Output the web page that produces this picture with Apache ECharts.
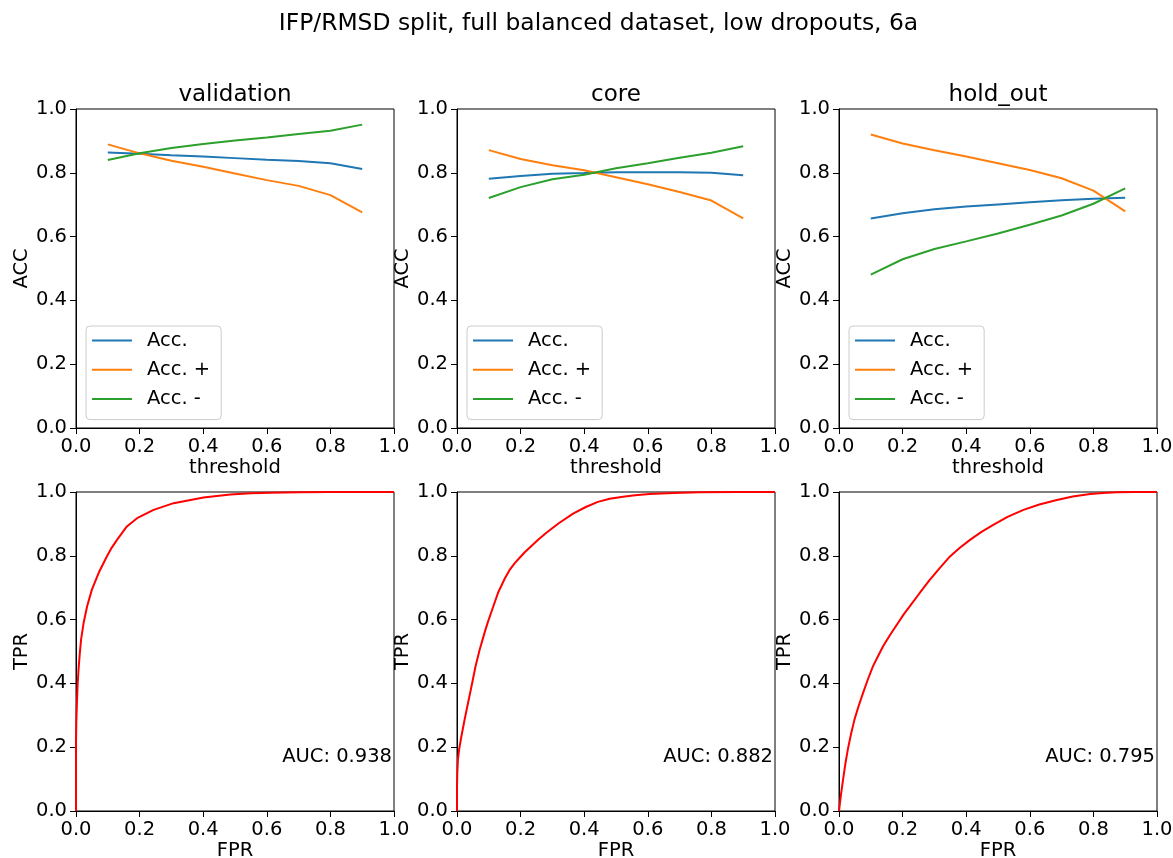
<!DOCTYPE html>
<html>
<head>
<meta charset="utf-8">
<script src="https://cdn.jsdelivr.net/npm/echarts@6/dist/echarts.min.js"></script>
<style>html,body{margin:0;padding:0;background:#fff;overflow:hidden}#c{width:1173px;height:858px}</style>
</head>
<body>
<div id="c"></div>
<script>
const thresholds = [0.1, 0.2, 0.3, 0.4, 0.5, 0.6, 0.7, 0.8, 0.9];
const panelTitles = ['validation', 'core', 'hold_out'];
const seriesNames = ['Acc.', 'Acc. +', 'Acc. -'];
const aucLabels = ['AUC: 0.938', 'AUC: 0.882', 'AUC: 0.795'];

const valAcc    = [0.864, 0.860, 0.855, 0.851, 0.846, 0.841, 0.837, 0.830, 0.812];
const valAccPos = [0.889, 0.861, 0.838, 0.819, 0.798, 0.777, 0.759, 0.730, 0.676];
const valAccNeg = [0.840, 0.861, 0.878, 0.890, 0.901, 0.911, 0.922, 0.932, 0.951];

const coreAcc    = [0.781, 0.790, 0.797, 0.799, 0.802, 0.802, 0.802, 0.800, 0.792];
const coreAccPos = [0.871, 0.843, 0.824, 0.808, 0.786, 0.764, 0.740, 0.713, 0.657];
const coreAccNeg = [0.721, 0.755, 0.780, 0.794, 0.814, 0.830, 0.847, 0.863, 0.883];

const holdAcc    = [0.657, 0.673, 0.686, 0.694, 0.701, 0.708, 0.714, 0.719, 0.722];
const holdAccPos = [0.920, 0.892, 0.871, 0.851, 0.830, 0.809, 0.783, 0.744, 0.679];
const holdAccNeg = [0.481, 0.529, 0.561, 0.585, 0.610, 0.637, 0.666, 0.703, 0.751];

const valFpr = [0, 0, 0.001, 0.003, 0.005, 0.008, 0.012, 0.016, 0.024, 0.035, 0.050, 0.071, 0.097, 0.112, 0.129, 0.145, 0.160, 0.192, 0.244, 0.307, 0.401, 0.485, 0.550, 0.611, 0.700, 0.800, 0.900, 1];
const valTpr = [0, 0.215, 0.280, 0.340, 0.395, 0.444, 0.495, 0.538, 0.590, 0.642, 0.694, 0.746, 0.798, 0.825, 0.850, 0.872, 0.892, 0.918, 0.944, 0.965, 0.983, 0.992, 0.996, 0.998, 0.999, 1, 1, 1];

const coreFpr = [0, 0, 0.001, 0.003, 0.007, 0.014, 0.024, 0.035, 0.045, 0.058, 0.071, 0.087, 0.097, 0.113, 0.129, 0.150, 0.165, 0.181, 0.197, 0.213, 0.234, 0.255, 0.281, 0.320, 0.365, 0.405, 0.443, 0.480, 0.522, 0.560, 0.606, 0.680, 0.763, 0.880, 1];
const coreTpr = [0, 0.080, 0.120, 0.162, 0.195, 0.235, 0.287, 0.340, 0.388, 0.452, 0.505, 0.560, 0.592, 0.638, 0.684, 0.728, 0.755, 0.776, 0.794, 0.811, 0.831, 0.850, 0.872, 0.902, 0.932, 0.953, 0.969, 0.979, 0.985, 0.990, 0.994, 0.997, 0.999, 1, 1];

const holdFpr = [0, 0.006, 0.013, 0.020, 0.028, 0.038, 0.049, 0.062, 0.076, 0.091, 0.107, 0.123, 0.139, 0.162, 0.186, 0.204, 0.223, 0.255, 0.286, 0.318, 0.349, 0.380, 0.412, 0.448, 0.485, 0.530, 0.580, 0.630, 0.685, 0.735, 0.790, 0.830, 0.874, 0.930, 1];
const holdTpr = [0, 0.050, 0.100, 0.148, 0.194, 0.242, 0.288, 0.330, 0.371, 0.413, 0.454, 0.486, 0.517, 0.554, 0.590, 0.617, 0.642, 0.685, 0.725, 0.763, 0.798, 0.825, 0.850, 0.875, 0.897, 0.922, 0.944, 0.961, 0.975, 0.986, 0.994, 0.997, 0.999, 1, 1];

const topSets = [[valAcc, valAccPos, valAccNeg], [coreAcc, coreAccPos, coreAccNeg], [holdAcc, holdAccPos, holdAccNeg]];
const rocSets = [[valFpr, valTpr], [coreFpr, coreTpr], [holdFpr, holdTpr]];
const colors = ['#1f77b4', '#ff7f0e', '#2ca02c'];

const FONT = 'DejaVu Sans';
const LBL = 19.5;
const lefts = [76, 457, 839];
const W = 318, H = 319;
const tops = [109, 492];

const grids = [], xAxes = [], yAxes = [], series = [], legends = [], graphics = [];
const fmt = v => v.toFixed(1);

graphics.push({type: 'text', x: 598.5, y: 24,
  style: {text: 'IFP/RMSD split, full balanced dataset, low dropouts, 6a', font: '23.4px "DejaVu Sans"', fill: '#000', align: 'center', verticalAlign: 'middle'}});

function axisCommon(name, gap) {
  return {
    type: 'value', min: 0, max: 1, interval: 0.2,
    name: name, nameLocation: 'middle', nameGap: gap,
    nameTextStyle: {fontFamily: FONT, fontSize: LBL, color: '#000'},
    axisLine: {show: true, lineStyle: {color: '#000', width: 1}},
    axisTick: {show: true, inside: false, length: 6, lineStyle: {color: '#000'}},
    axisLabel: {fontFamily: FONT, fontSize: LBL, color: '#000', formatter: fmt, margin: 9},
    splitLine: {show: false}
  };
}

for (let r = 0; r < 2; r++) {
  for (let c = 0; c < 3; c++) {
    const gi = r * 3 + c;
    grids.push({left: lefts[c], top: tops[r], width: W, height: H, show: true, borderColor: '#000', borderWidth: 1,
      backgroundColor: '#fff', containLabel: false, outerBoundsMode: 'none'});
    const xa = axisCommon(r === 0 ? 'threshold' : 'FPR', 30);
    xa.gridIndex = gi;
    xAxes.push(xa);
    const ya = axisCommon(r === 0 ? 'ACC' : 'TPR', 44);
    ya.gridIndex = gi;
    ya.nameRotate = 90;
    yAxes.push(ya);
    if (r === 0) {
      graphics.push({type: 'text', x: lefts[c] + W / 2, y: 95,
        style: {text: panelTitles[c], font: '23px "DejaVu Sans"', fill: '#000', align: 'center', verticalAlign: 'middle'}});
      topSets[c].forEach((arr, k) => {
        series.push({
          name: seriesNames[k], type: 'line', xAxisIndex: gi, yAxisIndex: gi,
          data: thresholds.map((t, i) => [t, arr[i]]),
          symbol: 'none', showSymbol: false, smooth: false,
          lineStyle: {color: colors[k], width: 2}, itemStyle: {color: colors[k]},
          animation: false
        });
      });
      legends.push({
        data: seriesNames, orient: 'vertical', left: lefts[c] + 10, top: 326,
        icon: 'rect', itemWidth: 40, itemHeight: 2, itemGap: 6.3,
        padding: [3, 11, 9, 6],
        borderColor: '#cccccc', borderWidth: 1, borderRadius: 4, backgroundColor: 'rgba(255,255,255,0.8)',
        textStyle: {fontFamily: FONT, fontSize: LBL, lineHeight: 23, color: '#000', padding: [0, 0, 0, 10]},
        selectedMode: false
      });
    } else {
      const [fx, ty] = rocSets[c];
      series.push({
        type: 'line', xAxisIndex: gi, yAxisIndex: gi,
        data: fx.map((f, i) => [f, ty[i]]),
        symbol: 'none', showSymbol: false, smooth: false,
        lineStyle: {color: '#ff0000', width: 2}, itemStyle: {color: '#ff0000'},
        animation: false
      });
      graphics.push({type: 'text', x: lefts[c] + W - 2, y: 757,
        style: {text: aucLabels[c], font: LBL + 'px "DejaVu Sans"', fill: '#000', align: 'right', verticalAlign: 'middle'}});
    }
  }
}

const chart = echarts.init(document.getElementById('c'), null, {renderer: 'canvas'});
chart.setOption({
  backgroundColor: '#fff',
  animation: false,
  legend: legends, grid: grids, xAxis: xAxes, yAxis: yAxes, series: series, graphic: graphics
});
</script>
</body>
</html>
